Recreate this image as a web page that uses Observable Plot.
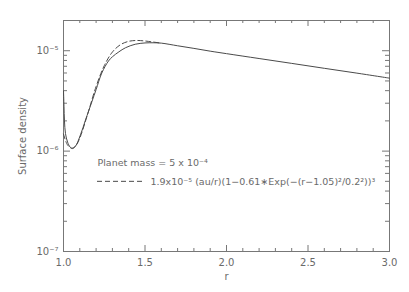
<!DOCTYPE html>
<html>
<head>
<meta charset="utf-8">
<script src="https://cdn.jsdelivr.net/npm/d3@7"></script>
<script src="https://cdn.jsdelivr.net/npm/@observablehq/plot@0.6"></script>
<style>
  html, body { margin: 0; padding: 0; background: #fff; }
  svg { display: block; }
</style>
</head>
<body>
<div id="chart"></div>
<script>
// Simulated surface density profile (solid line)
const rSolid = [1.000, 1.003, 1.006, 1.012, 1.025, 1.040, 1.055, 1.074, 1.104, 1.135, 1.174, 1.200, 1.235, 1.276, 1.300, 1.340, 1.380, 1.440, 1.500, 1.550, 1.600, 1.700, 1.800, 1.900, 2.000, 2.200, 2.400, 2.600, 2.800, 3.000];
const sigmaSolid = [4.0e-6, 2.8e-6, 2.0e-6, 1.5e-6, 1.23e-6, 1.10e-6, 1.06e-6, 1.12e-6, 1.45e-6, 2.04e-6, 3.1e-6, 4.1e-6, 6.0e-6, 7.9e-6, 8.7e-6, 9.75e-6, 1.07e-5, 1.16e-5, 1.195e-5, 1.2e-5, 1.19e-5, 1.12e-5, 1.055e-5, 9.9e-6, 9.35e-6, 8.36e-6, 7.48e-6, 6.68e-6, 5.98e-6, 5.33e-6];

// Fit curve (dashed line)
const rDashed = [1.000, 1.025, 1.050, 1.075, 1.100, 1.150, 1.200, 1.250, 1.300, 1.350, 1.400, 1.450, 1.500, 1.550, 1.600];
const sigmaDashed = [1.48e-6, 1.15e-6, 1.07e-6, 1.13e-6, 1.35e-6, 2.39e-6, 4.40e-6, 7.09e-6, 9.7e-6, 1.15e-5, 1.24e-5, 1.265e-5, 1.25e-5, 1.22e-5, 1.19e-5];

// Axis ticks
const xMajor = [1.0, 1.5, 2.0, 2.5, 3.0];
const xMinor = [1.1, 1.2, 1.3, 1.4, 1.6, 1.7, 1.8, 1.9, 2.1, 2.2, 2.3, 2.4, 2.6, 2.7, 2.8, 2.9];
const yMajor = [1e-7, 1e-6, 1e-5];
const yMajorLabels = ["10\u207B\u2077", "10\u207B\u2076", "10\u207B\u2075"];
const yMinor = [2e-7, 3e-7, 4e-7, 5e-7, 6e-7, 7e-7, 8e-7, 9e-7, 2e-6, 3e-6, 4e-6, 5e-6, 6e-6, 7e-6, 8e-6, 9e-6];

const legendTitle = "Planet mass = 5 x 10\u207B\u2074";
const legendFormula = "1.9x10\u207B\u2075 (au/r)(1\u22120.61\u2217Exp(\u2212(r\u22121.05)\u00B2/0.2\u00B2))\u00B3";
const legendSampleY = [5e-7];

const solid = rSolid.map((r, i) => ({r, s: sigmaSolid[i]}));
const dashed = rDashed.map((r, i) => ({r, s: sigmaDashed[i]}));

const W = 409, H = 292;
const mL = 63, mR = 20, mT = 20, mB = 41;
const innerH = H - mT - mB, innerW = W - mL - mR;
const axisColor = "#777";
const textColor = "#6a6a6a";
const lineColor = "#4a4a4a";
const font = "DejaVu Sans, sans-serif";

const chart = Plot.plot({
  width: W,
  height: H,
  marginLeft: mL,
  marginRight: mR,
  marginTop: mT,
  marginBottom: mB,
  style: {fontFamily: font, fontSize: "10px", color: textColor, background: "#fff"},
  x: {domain: [1, 3]},
  y: {type: "log", domain: [1e-7, 2e-5]},
  marks: [
    Plot.frame({stroke: axisColor, strokeWidth: 1}),
    // x ticks bottom & top (inward)
    Plot.ruleX(xMajor, {x: d => d, insetTop: innerH - 6, stroke: axisColor}),
    Plot.ruleX(xMajor, {x: d => d, insetBottom: innerH - 6, stroke: axisColor}),
    Plot.ruleX(xMinor, {x: d => d, insetTop: innerH - 3, stroke: axisColor}),
    Plot.ruleX(xMinor, {x: d => d, insetBottom: innerH - 3, stroke: axisColor}),
    // y ticks left & right (inward)
    Plot.ruleY(yMajor, {y: d => d, insetRight: innerW - 7, stroke: axisColor}),
    Plot.ruleY(yMajor, {y: d => d, insetLeft: innerW - 7, stroke: axisColor}),
    Plot.ruleY(yMinor, {y: d => d, insetRight: innerW - 4, stroke: axisColor}),
    Plot.ruleY(yMinor, {y: d => d, insetLeft: innerW - 4, stroke: axisColor}),
    Plot.axisX(xMajor, {tickSize: 0, tickPadding: 7, tickFormat: d3.format(".1f"), label: null, fill: textColor}),
    Plot.axisY(yMajor, {tickSize: 0, tickPadding: 5, tickFormat: (d) => yMajorLabels[yMajor.indexOf(d)], label: null, fill: textColor}),
    Plot.text(["Surface density"], {frameAnchor: "left", rotate: -90, dx: -41, textAnchor: "middle", lineAnchor: "middle", fill: textColor, fontSize: 10}),
    Plot.text(["r"], {frameAnchor: "bottom", dy: 25, textAnchor: "middle", lineAnchor: "middle", fill: textColor, fontSize: 10}),
    // curves
    Plot.line(solid, {x: "r", y: "s", stroke: lineColor, strokeWidth: 1, curve: "catmull-rom"}),
    Plot.line(dashed, {x: "r", y: "s", stroke: lineColor, strokeWidth: 1, strokeDasharray: "5,3", curve: "catmull-rom"}),
    // legend
    Plot.text([legendTitle], {frameAnchor: "top-left", dx: 34, dy: 142, textAnchor: "start", lineAnchor: "middle", fill: textColor, fontSize: 9.5}),
    Plot.ruleY(legendSampleY, {y: d => d, insetLeft: 34, insetRight: innerW - 79, stroke: lineColor, strokeWidth: 1, strokeDasharray: "5,3"}),
    Plot.text([legendFormula], {frameAnchor: "top-left", dx: 87, dy: 161, textAnchor: "start", lineAnchor: "middle", fill: textColor, fontSize: 9.5})
  ]
});
document.getElementById("chart").appendChild(chart);
</script>
</body>
</html>
